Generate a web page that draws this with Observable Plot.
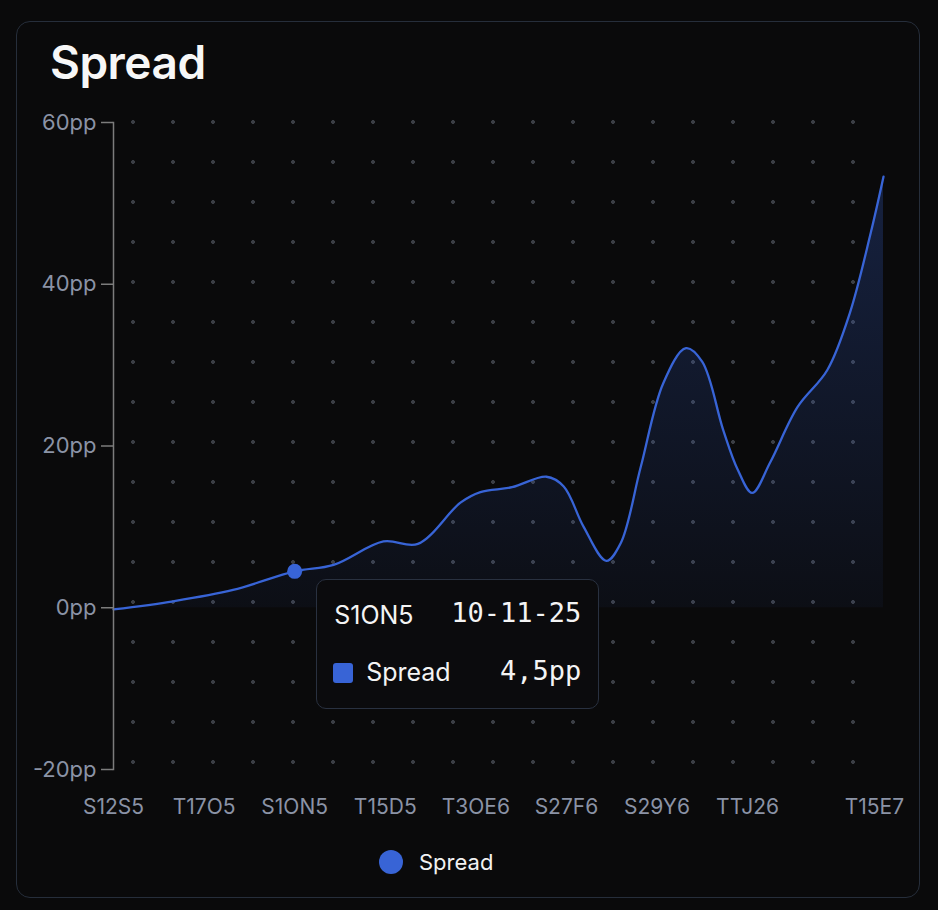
<!DOCTYPE html>
<html>
<head>
<meta charset="utf-8">
<script src="https://cdn.jsdelivr.net/npm/d3@7"></script>
<script src="https://cdn.jsdelivr.net/npm/@observablehq/plot@0.6"></script>
<style>
  html, body { margin: 0; padding: 0; background: #0a0a0b; }
  #root { position: relative; width: 938px; height: 910px; overflow: hidden; font-family: Inter, "Noto Sans", sans-serif; }
  .card { position: absolute; left: 16px; top: 21px; width: 902px; height: 875px; border: 1.5px solid #262e3b; border-radius: 14px; background: #0a0a0b; }
  .title { position: absolute; left: 50px; top: 34px; font-size: 46px; font-weight: 600; color: #f7f7f7; letter-spacing: -0.5px; }
  .dots { position: absolute; left: 113px; top: 102px; width: 760px; height: 680px;
          background-image: radial-gradient(circle, #3b3e45 1.6px, rgba(0,0,0,0) 2.2px);
          background-size: 40px 40px; background-position: 0 0; }
  #chart { position: absolute; left: 0; top: 90px; }
  .legend { position: absolute; left: 379px; top: 849px; display: flex; align-items: center; color: #f2f2f2; font-size: 22px; }
  .legend .sw { width: 24px; height: 24px; border-radius: 50%; margin-right: 16px; }
  .tip { position: absolute; width: 283px; height: 130px; box-sizing: border-box; border: 1.5px solid #293140; border-radius: 10px; background: #0b0b0d; color: #f4f4f4; }
  .tip .r1 { position: absolute; left: 17px; top: 20px; font-size: 25px; }
  .tip .r1m { position: absolute; right: 17px; top: 17px; font-family: "DejaVu Sans Mono", "Liberation Mono", monospace; font-size: 27px; }
  .tip .sq { position: absolute; left: 16px; top: 83px; width: 20px; height: 20px; border-radius: 3px; }
  .tip .r2 { position: absolute; left: 49px; top: 77px; font-size: 25px; }
  .tip .r2m { position: absolute; right: 17px; top: 75px; font-family: "DejaVu Sans Mono", "Liberation Mono", monospace; font-size: 27px; }
</style>
</head>
<body>
<div id="root">
  <div class="card"></div>
  <div class="title">Spread</div>
  <div class="dots"></div>
  <div id="chart"></div>
  <div class="legend"><div class="sw"></div><span class="lt"></span></div>
</div>
<script>
// ---- data ----
const seriesName = "Spread";
const xValues = [0, 6.6, 13.2, 20, 24.3, 29.8, 33.6, 38.3, 40.5, 44, 47.8, 49.7, 51.9, 54.4, 56.0, 58.2, 60.7, 63.2, 65.0, 67.3, 68.9, 70.5, 72.5, 75.5, 78.8, 81.3, 83.6, 85];
const spread  = [-0.2, 0.8, 2.2, 4.5, 5.3, 8.2, 7.9, 13.0, 14.3, 14.9, 16.2, 15.0, 10.0, 5.8, 8.0, 17.4, 27.8, 32.1, 30.4, 22.0, 17.1, 14.2, 18.0, 24.8, 29.4, 36.5, 46.4, 53.3];
const xTickValues = [0, 10, 20, 30, 40, 50, 60, 70, 84];
const xTickLabels = ["S12S5", "T17O5", "S1ON5", "T15D5", "T3OE6", "S27F6", "S29Y6", "TTJ26", "T15E7"];
const yTickValues = [-20, 0, 20, 40, 60];
const hoverIndex = 3;
const hoverDate = "10-11-25";

const blue = "#3864d6";
const data = xValues.map((x, i) => ({x, y: spread[i]}));

const chart = Plot.plot({
  width: 938,
  height: 730,
  marginLeft: 113,
  marginRight: 55,
  marginTop: 32,
  marginBottom: 51,
  style: {background: "transparent", fontFamily: "Inter, 'Noto Sans', sans-serif", overflow: "visible"},
  x: {domain: [0, 85], axis: null},
  y: {domain: [-20, 60], axis: null},
  marks: [
    Plot.areaY(data, {x: "x", y: "y", fill: "url(#spreadGrad)", curve: "catmull-rom"}),
    Plot.lineY(data, {x: "x", y: "y", stroke: blue, strokeWidth: 2.3, curve: "catmull-rom"}),
    Plot.frame({anchor: "left", stroke: "#7c7c7c", strokeWidth: 1.5}),
    Plot.axisY({ticks: yTickValues, tickFormat: d => d + "pp", label: null, tickSize: 12, tickPadding: 5, fontSize: 22, fontVariant: "normal", stroke: "#7c7c7c", fill: "#8b93a6", strokeWidth: 1.5}),
    Plot.axisX({ticks: xTickValues, tickFormat: d => xTickLabels[xTickValues.indexOf(d)], label: null, tickSize: 0, tickPadding: 30, fontSize: 21, fontVariant: "normal", fill: "#8b93a6"}),
    Plot.dot([data[hoverIndex]], {x: "x", y: "y", r: 7.5, fill: blue, stroke: "none"})
  ]
});

// gradient for area
const svg = d3.select(chart);
const defs = svg.insert("defs", ":first-child");
const g = defs.append("linearGradient").attr("id", "spreadGrad").attr("x1", 0).attr("y1", 0).attr("x2", 0).attr("y2", 1);
g.append("stop").attr("offset", "0%").attr("stop-color", blue).attr("stop-opacity", 0.26);
g.append("stop").attr("offset", "100%").attr("stop-color", blue).attr("stop-opacity", 0.05);

document.getElementById("chart").appendChild(chart);

// legend
document.querySelector(".legend .sw").style.background = blue;
document.querySelector(".legend .lt").textContent = seriesName;

// tooltip
const px = chart.scale("x").apply(data[hoverIndex].x);
const py = chart.scale("y").apply(data[hoverIndex].y) + 90;
const tip = document.createElement("div");
tip.className = "tip";
tip.style.left = (px + 22) + "px";
tip.style.top = (py + 8) + "px";
const fmt = v => String(v).replace(".", ",") + "pp";
tip.innerHTML = `<span class="r1">${xTickLabels[xTickValues.indexOf(data[hoverIndex].x)]}</span>
  <span class="r1m">${hoverDate}</span>
  <div class="sq" style="background:${blue}"></div>
  <span class="r2">${seriesName}</span>
  <span class="r2m">${fmt(data[hoverIndex].y)}</span>`;
document.getElementById("root").appendChild(tip);
</script>
</body>
</html>
